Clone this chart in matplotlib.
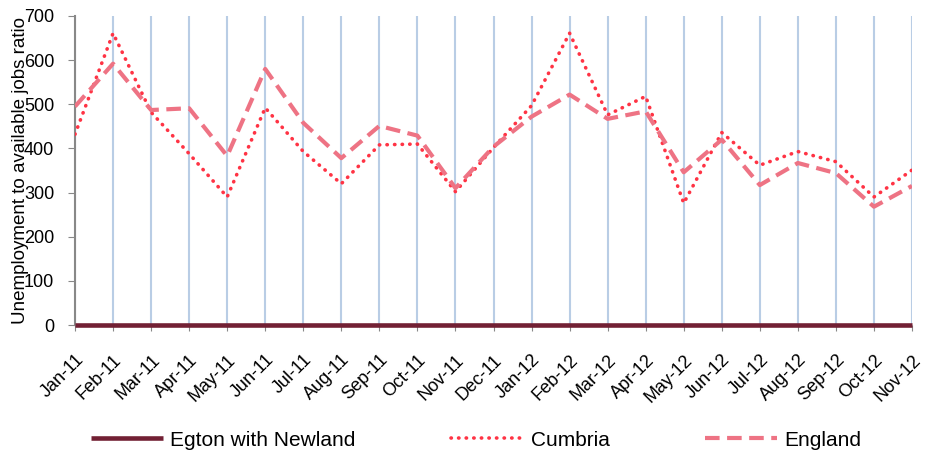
import matplotlib
matplotlib.use("Agg")
import matplotlib.pyplot as plt
from matplotlib.transforms import ScaledTranslation

plt.rcParams['font.family'] = ['Liberation Sans', 'DejaVu Sans']

months = ['Jan-11', 'Feb-11', 'Mar-11', 'Apr-11', 'May-11', 'Jun-11', 'Jul-11', 'Aug-11',
          'Sep-11', 'Oct-11', 'Nov-11', 'Dec-11', 'Jan-12', 'Feb-12', 'Mar-12', 'Apr-12',
          'May-12', 'Jun-12', 'Jul-12', 'Aug-12', 'Sep-12', 'Oct-12', 'Nov-12']
egton = [0] * 23
cumbria = [432, 661, 482, 388, 290, 492, 393, 320, 408, 410, 302, 402, 497, 661,
           476, 518, 276, 436, 362, 393, 370, 290, 351]
england = [495, 592, 487, 491, 383, 580, 458, 378, 451, 429, 310, 404, 472, 522,
           467, 484, 346, 420, 317, 367, 344, 268, 315]

x = list(range(len(months)))

fig = plt.figure(figsize=(9.32, 4.55), dpi=100)
ax = fig.add_axes([75 / 932, 1 - 325 / 455, (912 - 75) / 932, (325 - 16) / 455])

ax.plot(x, egton, color='#722034', linewidth=3.3, label='Egton with Newland',
        solid_capstyle='butt', zorder=4, clip_on=False)
ax.plot(x, cumbria, color='#FF3344', linewidth=2.6, linestyle=(0, (0.1, 2.0)),
        dash_capstyle='round', label='Cumbria', zorder=3)
ax.plot(x, england, color='#EE7384', linewidth=3, linestyle=(0, (3.5, 1.8)),
        label='England', zorder=3)

ax.set_xlim(0, len(months) - 1)
ax.set_ylim(0, 700)
ax.set_yticks(range(0, 701, 100))
ax.set_xticks(x)
ax.set_xticklabels(months, rotation=45, ha='right', va='top', rotation_mode='anchor',
                   fontsize=13)
shift = ScaledTranslation(17 / 100, 0, fig.dpi_scale_trans)
for lbl in ax.get_xticklabels():
    lbl.set_transform(lbl.get_transform() + shift)
ax.tick_params(axis='y', labelsize=13, length=5, color='#888888', pad=10)
ax.tick_params(axis='x', length=4, color='#888888', pad=15)

ax.grid(axis='x', color='#B9CDE5', linewidth=1.5)
ax.set_axisbelow(True)
for s in ['top', 'right']:
    ax.spines[s].set_visible(False)
ax.spines['left'].set_color('#888888')
ax.spines['left'].set_linewidth(1.5)
ax.spines['bottom'].set_visible(False)

ax.set_ylabel('Unemployment to available jobs ratio', fontsize=13.5)
ax.yaxis.set_label_coords(-0.055, 0.5)

fig.legend(loc='center', bbox_to_anchor=(0.511, 1 - 440 / 455), ncol=3, frameon=False,
           fontsize=15, handlelength=3.45, columnspacing=4.6, handletextpad=0.35)

plt.savefig('out.png', dpi=100)
